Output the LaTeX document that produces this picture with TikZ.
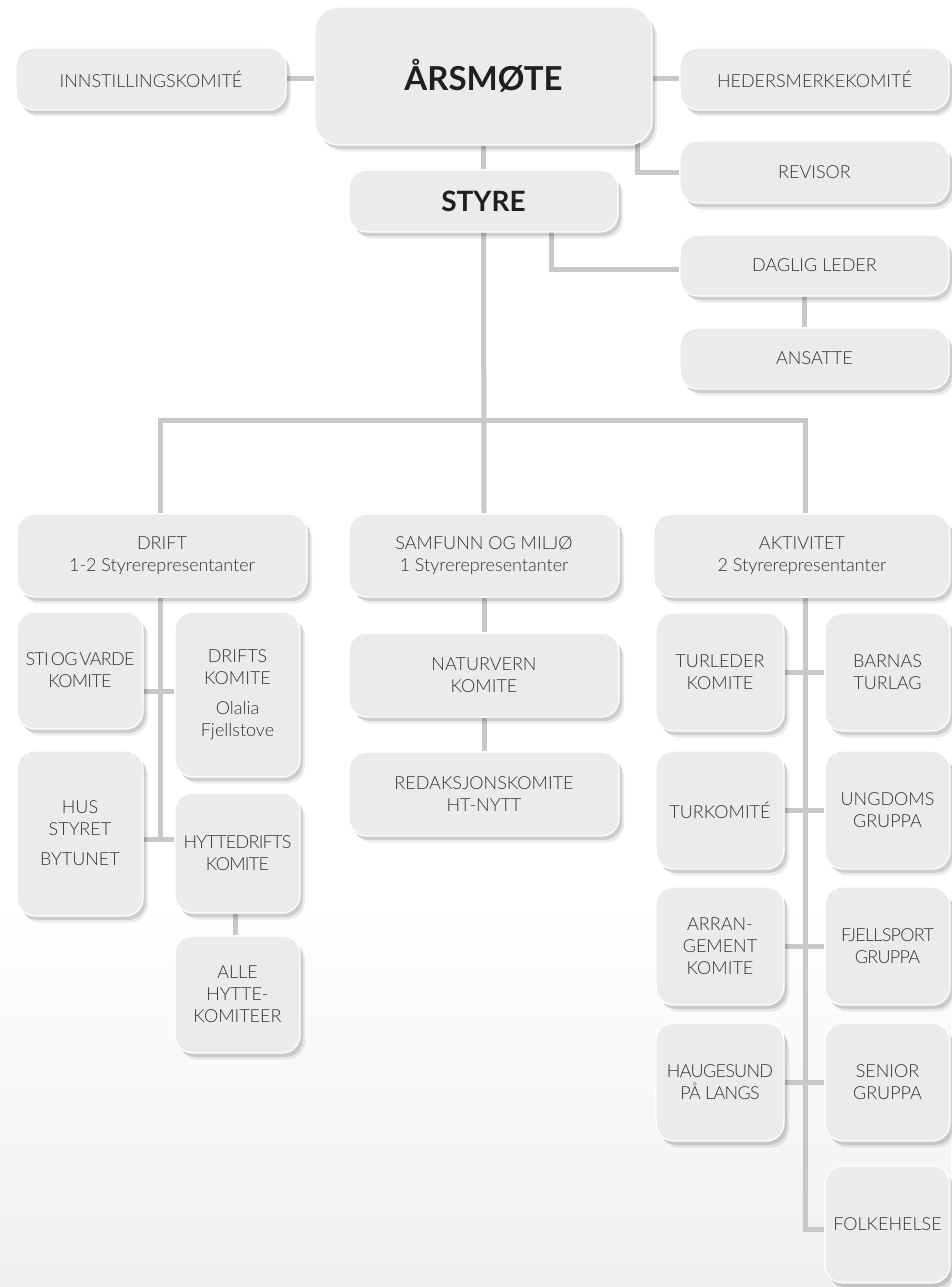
\documentclass[tikz,border=0pt]{standalone}
\usepackage{fontspec}
\setmainfont{Lato}[UprightFont=* Light, BoldFont=* Bold]
\usetikzlibrary{shadows,backgrounds,calc}
\definecolor{boxfill}{HTML}{EBEBEB}
\definecolor{linecol}{HTML}{C8C8C8}
\definecolor{txt}{HTML}{333333}
\tikzset{
  orgbox/.style={draw=white, line width=1.2pt, fill=boxfill, rounded corners=18pt,
    inner sep=0pt, align=center, text=txt, font=\fontsize{18}{22}\selectfont,
    drop shadow={shadow xshift=5pt, shadow yshift=-6.5pt, opacity=0.08, fill=black},
    drop shadow={shadow xshift=3pt, shadow yshift=-4pt, opacity=0.12, fill=black}},
  tight/.style={font=\fontsize{18}{22}\selectfont\addfontfeature{LetterSpace=-4}},
  wide/.style={minimum width=269pt, minimum height=62pt},
  col/.style={minimum width=270pt, minimum height=84pt},
  small/.style={minimum width=126pt, minimum height=118pt},
  titlefont/.style={font=\bfseries\fontsize{#1}{#1}\selectfont, text=black!88},
  conn/.style={draw=linecol, line width=5pt}
}
\begin{document}
\begin{tikzpicture}[x=1pt,y=-1pt]
\useasboundingbox (0,0) rectangle (951,1287);
% top
\node[orgbox, rounded corners=24pt, minimum width=337pt, minimum height=138pt, titlefont=33] (ars) at (483.5,76) {ÅRSMØTE};
\node[orgbox, minimum width=270pt, minimum height=62pt] (innst) at (151,79) {INNSTILLINGSKOMITÉ};
\node[orgbox, wide] (heders) at (814.5,79) {HEDERSMERKEKOMITÉ};
\node[orgbox, wide] (revisor) at (814.5,172) {REVISOR};
\node[orgbox, wide, titlefont=28] (styre) at (483.5,201) {STYRE};
\node[orgbox, wide, minimum height=61pt] (daglig) at (814.5,265.5) {DAGLIG LEDER};
\node[orgbox, wide, minimum height=61pt] (ansatte) at (814.5,358.5) {ANSATTE};
% divisions
\node[orgbox, minimum width=290pt, minimum height=83pt] (drift) at (162,555.5) {DRIFT\\1-2 Styrerepresentanter};
\node[orgbox, minimum width=270pt, minimum height=83pt] (samfunn) at (484,555.5) {SAMFUNN OG MILJØ\\1 Styrerepresentanter};
\node[orgbox, minimum width=296pt, minimum height=83pt] (aktivitet) at (802,555.5) {AKTIVITET\\2 Styrerepresentanter};
% drift column
\node[orgbox, tight, minimum width=126pt, minimum height=117pt] (sti) at (80,670.5) {STI\hspace{2pt}OG\hspace{2pt}VARDE\\KOMITE};
\node[orgbox, minimum width=125pt, minimum height=165pt] (drifts) at (237.5,694.5) {DRIFTS\\KOMITE\\[8pt]Olalia\\Fjellstove};
\node[orgbox, minimum width=126pt, minimum height=165pt] (hus) at (80,833.5) {HUS\\STYRET\\[8pt]BYTUNET};
\node[orgbox, tight, minimum width=125pt, minimum height=120pt] (hytted) at (237.5,853) {HYTTEDRIFTS\\KOMITE};
\node[orgbox, minimum width=125pt, minimum height=117pt] (alle) at (237.5,994.5) {ALLE\\HYTTE-\\KOMITEER};
% samfunn column
\node[orgbox, col] (natur) at (484,675) {NATURVERN\\KOMITE};
\node[orgbox, col] (redak) at (484,794) {REDAKSJONSKOMITE\\HT-NYTT};
% aktivitet column
\node[orgbox, small, minimum width=128pt] (turleder) at (720,672) {TURLEDER\\KOMITE};
\node[orgbox, small, minimum width=125pt] (barnas) at (887.5,672) {BARNAS\\TURLAG};
\node[orgbox, small, minimum width=128pt] (turkom) at (720,810) {TURKOMITÉ};
\node[orgbox, small, minimum width=125pt] (ungdoms) at (887.5,810) {UNGDOMS\\GRUPPA};
\node[orgbox, small, minimum width=128pt] (arrang) at (720,946) {ARRAN-\\GEMENT\\KOMITE};
\node[orgbox, small, tight, minimum width=125pt] (fjell) at (887.5,946) {FJELLSPORT\\GRUPPA};
\node[orgbox, small, tight, minimum width=128pt] (haug) at (720,1082) {HAUGESUND\\PÅ LANGS};
\node[orgbox, small, minimum width=125pt] (senior) at (887.5,1082) {SENIOR\\GRUPPA};
\node[orgbox, minimum width=125pt, minimum height=117pt] (folke) at (887.5,1224.5) {FOLKEHELSE};

\coordinate (bus) at (483.5,420);
\coordinate (dA) at (160,691);
\coordinate (dB) at (160,839);

\begin{pgfonlayer}{background}
\fill[white] (0,0) rectangle (951,1287);
\shade[top color=white, bottom color=black!6] (0,900) rectangle (951,1287);
\draw[conn] (innst.east) -- (innst.east -| ars.west);
\draw[conn] (heders.west) -- (heders.west -| ars.east);
\draw[conn] ([xshift=-15pt,yshift=10pt]ars.south east) |- (revisor.west);
\draw[conn] (ars.south) -- (styre.north);
\draw[conn] ([xshift=68pt,yshift=5pt]styre.south) |- ([yshift=-4pt]daglig.west);
\draw[conn] ([xshift=-10pt]daglig.south) -- ([xshift=-10pt]ansatte.north);
\draw[conn] (styre.south) -- (samfunn.north);
\draw[conn] ([xshift=-2pt]drift.north) |- (bus) -| ([xshift=3pt]aktivitet.north);
\draw[conn] ([xshift=-2pt]drift.south) -- (dB);
\draw[conn] (sti.east |- dA) -- (drifts.west |- dA);
\draw[conn] (hus.east |- dB) -- (hytted.west |- dB);
\draw[conn] ([xshift=-2.5pt]hytted.south) -- ([xshift=-2.5pt]alle.north);
\draw[conn] (samfunn.south) -- (natur.north);
\draw[conn] (natur.south) -- (redak.north);
\draw[conn] ([xshift=3pt]aktivitet.south) |- ([yshift=-5pt]folke.west);
\draw[conn] (turleder.east) -- (barnas.west);
\draw[conn] (turkom.east) -- (ungdoms.west);
\draw[conn] (arrang.east) -- (fjell.west);
\draw[conn] (haug.east) -- (senior.west);
\end{pgfonlayer}
\end{tikzpicture}
\end{document}
